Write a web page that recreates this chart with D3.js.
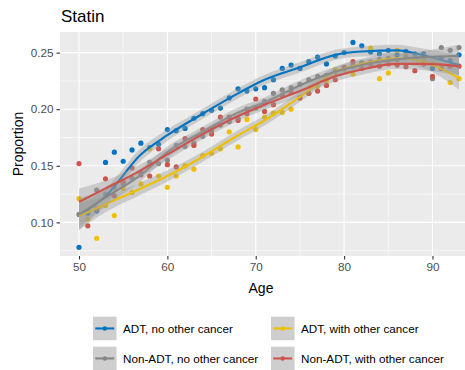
<!DOCTYPE html>
<html>
<head>
<meta charset="utf-8">
<script src="https://cdn.jsdelivr.net/npm/d3@7"></script>
<style>
  body { margin: 0; background: #fff; }
  svg text { font-family: "Liberation Sans", Arial, sans-serif; }
</style>
</head>
<body>
<svg width="465" height="370"></svg>
<script>
// ---- data ----
var ages = d3.range(50, 94);
var seriesNames = ["ADT, no other cancer", "ADT, with other cancer", "Non-ADT, no other cancer", "Non-ADT, with other cancer"];
var seriesColors = ["#0073C2", "#EFC000", "#868686", "#CD534C"];

var adtNoOther = [0.078, 0.108, 0.110, 0.153, 0.162, 0.154, 0.164, 0.170, 0.166, 0.169,
  0.182, 0.181, 0.183, 0.192, 0.196, 0.199, 0.201, 0.210, 0.218, 0.216,
  0.218, 0.219, 0.226, 0.236, 0.239, 0.236, 0.242, 0.246, 0.240, 0.247,
  0.250, 0.259, 0.256, 0.2505, 0.249, 0.252, 0.248, 0.251, 0.249, 0.249,
  0.236, 0.245, 0.243, 0.248];
var adtWithOther = [0.121, 0.103, 0.086, 0.115, 0.106, 0.130, 0.1265, 0.134, 0.165, 0.141,
  0.131, 0.141, 0.150, 0.147, 0.159, 0.161, 0.165, 0.180, 0.1667, 0.191,
  0.182, 0.193, 0.1965, 0.197, 0.200, 0.210, 0.214, 0.220, 0.225, 0.235,
  0.235, 0.231, 0.241, 0.254, 0.227, 0.232, 0.252, 0.2475, 0.245, 0.244,
  0.240, 0.238, 0.2235, 0.227];
var nonAdtNoOther = [0.107, 0.110, 0.1285, 0.125, 0.131, 0.134, 0.139, 0.144, 0.153, 0.152,
  0.155, 0.168, 0.167, 0.170, 0.176, 0.181, 0.186, 0.189, 0.192, 0.200,
  0.201, 0.207, 0.214, 0.217, 0.219, 0.222, 0.226, 0.229, 0.230, 0.233,
  0.236, 0.238, 0.241, 0.2415, 0.244, 0.245, 0.244, 0.246, 0.245, 0.247,
  0.227, 0.2545, 0.252, 0.2545];
var nonAdtWithOther = [0.152, 0.097, 0.112, 0.1385, 0.1235, 0.136, 0.148, 0.142, 0.141, 0.165,
  0.151, 0.149, 0.174, 0.168, 0.182, 0.178, 0.193, 0.193, 0.190, 0.196,
  0.209, 0.198, 0.204, 0.212, 0.215, 0.210, 0.214, 0.216, 0.221, 0.226,
  0.237, 0.242, 0.236, 0.240, 0.238, 0.240, 0.239, 0.2375, 0.234, 0.240,
  0.229, 0.236, 0.238, 0.238];

// smoothed fits and band half-widths at these ages
var fitAges = [50, 53, 57, 60, 64, 68, 71, 75, 79, 82, 86, 89, 93];
var fitAdtNoOther = [0.106, 0.123, 0.160, 0.177, 0.196, 0.214, 0.226, 0.237, 0.248, 0.251, 0.252, 0.2475, 0.239];
var fitAdtWithOther = [0.1055, 0.116, 0.130, 0.141, 0.158, 0.177, 0.190, 0.211, 0.233, 0.240, 0.245, 0.242, 0.2275];
var fitNonAdtNoOther = [0.107, 0.122, 0.142, 0.162, 0.180, 0.197, 0.206, 0.221, 0.233, 0.239, 0.244, 0.246, 0.247];
var fitNonAdtWithOther = [0.118, 0.130, 0.146, 0.160, 0.178, 0.194, 0.204, 0.216, 0.229, 0.235, 0.240, 0.240, 0.238];
var seAdtNoOther = [0.010, 0.007, 0.0055, 0.005, 0.0045, 0.0045, 0.0045, 0.0045, 0.0045, 0.0045, 0.005, 0.006, 0.009];
var seAdtWithOther = [0.012, 0.007, 0.0055, 0.005, 0.0045, 0.0045, 0.0045, 0.0045, 0.0045, 0.0045, 0.005, 0.006, 0.010];
var seNonAdtNoOther = [0.014, 0.008, 0.0055, 0.005, 0.0045, 0.0045, 0.0045, 0.0045, 0.0045, 0.0045, 0.0045, 0.0055, 0.010];
var seNonAdtWithOther = [0.012, 0.007, 0.0055, 0.005, 0.0045, 0.0045, 0.0045, 0.0045, 0.0045, 0.0045, 0.0045, 0.0055, 0.008];

var yTicks = [0.10, 0.15, 0.20, 0.25];
var xTicks = [50, 60, 70, 80, 90];

var pointSets = [adtNoOther, adtWithOther, nonAdtNoOther, nonAdtWithOther];
var fitSets = [fitAdtNoOther, fitAdtWithOther, fitNonAdtNoOther, fitNonAdtWithOther];
var seSets = [seAdtNoOther, seAdtWithOther, seNonAdtNoOther, seNonAdtWithOther];

// ---- layout ----
var svg = d3.select("svg");
var panel = { left: 60, top: 32, right: 478, bottom: 256 };

var x = d3.scaleLinear().domain([47.85, 95.15]).range([panel.left, panel.right]);
var y = d3.scaleLinear().domain([0.0703, 0.2682]).range([panel.bottom, panel.top]);

svg.append("defs").append("clipPath").attr("id", "clip")
  .append("rect")
  .attr("x", panel.left).attr("y", panel.top)
  .attr("width", panel.right - panel.left).attr("height", panel.bottom - panel.top);

// panel background and grid
svg.append("rect")
  .attr("x", panel.left).attr("y", panel.top)
  .attr("width", panel.right - panel.left).attr("height", panel.bottom - panel.top)
  .attr("fill", "#EBEBEB");

var grid = svg.append("g").attr("clip-path", "url(#clip)");
var yMinor = [0.075, 0.125, 0.175, 0.225];
var xMinor = [55, 65, 75, 85, 95];
grid.selectAll("line.ymin").data(yMinor).enter().append("line")
  .attr("x1", panel.left).attr("x2", panel.right)
  .attr("y1", d => y(d)).attr("y2", d => y(d))
  .attr("stroke", "#fff").attr("stroke-width", 0.55);
grid.selectAll("line.xmin").data(xMinor).enter().append("line")
  .attr("y1", panel.top).attr("y2", panel.bottom)
  .attr("x1", d => x(d)).attr("x2", d => x(d))
  .attr("stroke", "#fff").attr("stroke-width", 0.55);
grid.selectAll("line.ymaj").data(yTicks).enter().append("line")
  .attr("x1", panel.left).attr("x2", panel.right)
  .attr("y1", d => y(d)).attr("y2", d => y(d))
  .attr("stroke", "#fff").attr("stroke-width", 1.1);
grid.selectAll("line.xmaj").data(xTicks).enter().append("line")
  .attr("y1", panel.top).attr("y2", panel.bottom)
  .attr("x1", d => x(d)).attr("x2", d => x(d))
  .attr("stroke", "#fff").attr("stroke-width", 1.1);

// points
var plot = svg.append("g").attr("clip-path", "url(#clip)");
pointSets.forEach(function (vals, i) {
  plot.append("g").selectAll("circle")
    .data(ages.map((a, j) => ({ age: a, value: vals[j] })))
    .enter().append("circle")
    .attr("cx", d => x(d.age))
    .attr("cy", d => y(d.value))
    .attr("r", 2.6)
    .attr("fill", seriesColors[i]);
});

// smooths: ribbon then line, per group
var area = d3.area()
  .x(d => x(d.age))
  .y0(d => y(d.fit - d.se))
  .y1(d => y(d.fit + d.se))
  .curve(d3.curveMonotoneX);
var line = d3.line()
  .x(d => x(d.age))
  .y(d => y(d.fit))
  .curve(d3.curveMonotoneX);

fitSets.forEach(function (fit, i) {
  var rows = fitAges.map((a, j) => ({ age: a, fit: fit[j], se: seSets[i][j] }));
  plot.append("path").attr("d", area(rows))
    .attr("fill", "#999999").attr("fill-opacity", 0.4);
  plot.append("path").attr("d", line(rows))
    .attr("fill", "none").attr("stroke", seriesColors[i]).attr("stroke-width", 2.1);
});

// axes
var yAxis = svg.append("g").attr("transform", "translate(" + panel.left + ",0)")
  .call(d3.axisLeft(y).tickValues(yTicks).tickFormat(d3.format(".2f")).tickSize(3.5).tickPadding(3));
var xAxis = svg.append("g").attr("transform", "translate(0," + panel.bottom + ")")
  .call(d3.axisBottom(x).tickValues(xTicks).tickSize(3.5).tickPadding(3));
[yAxis, xAxis].forEach(function (ax) {
  ax.select(".domain").remove();
  ax.selectAll(".tick line").attr("stroke", "#333333").attr("stroke-width", 1.1);
  ax.selectAll(".tick text").attr("fill", "#4D4D4D").attr("font-size", "11.7px")
    .style("font-family", "'Liberation Sans', Arial, sans-serif");
});

// titles
svg.append("text").attr("x", 61).attr("y", 22)
  .attr("font-size", "17px").attr("fill", "#000").text("Statin");
svg.append("text")
  .attr("transform", "translate(23," + ((panel.top + panel.bottom) / 2) + ") rotate(-90)")
  .attr("text-anchor", "middle").attr("font-size", "14px").text("Proportion");
svg.append("text").attr("x", 261).attr("y", 293)
  .attr("text-anchor", "middle").attr("font-size", "14px").text("Age");

// legend
var legendPos = [[93, 316.7], [271, 316.7], [93, 346.7], [271, 346.7]];
var legendOrder = [0, 1, 2, 3];
legendOrder.forEach(function (i, k) {
  var p = legendPos[k];
  var g = svg.append("g").attr("transform", "translate(" + p[0] + "," + p[1] + ")");
  g.append("rect").attr("width", 23.5).attr("height", 23.5).attr("fill", "#F2F2F2");
  g.append("rect").attr("width", 23.5).attr("height", 23.5).attr("fill", "#999999").attr("fill-opacity", 0.4);
  g.append("line").attr("x1", 2.3).attr("x2", 21.2).attr("y1", 11.75).attr("y2", 11.75)
    .attr("stroke", seriesColors[i]).attr("stroke-width", 2.1);
  g.append("circle").attr("cx", 11.75).attr("cy", 11.75).attr("r", 2.2).attr("fill", seriesColors[i]);
  g.append("text").attr("x", 30).attr("y", 11.75).attr("dy", "0.35em")
    .attr("font-size", "11.7px").attr("fill", "#000").text(seriesNames[i]);
});
</script>
</body>
</html>
